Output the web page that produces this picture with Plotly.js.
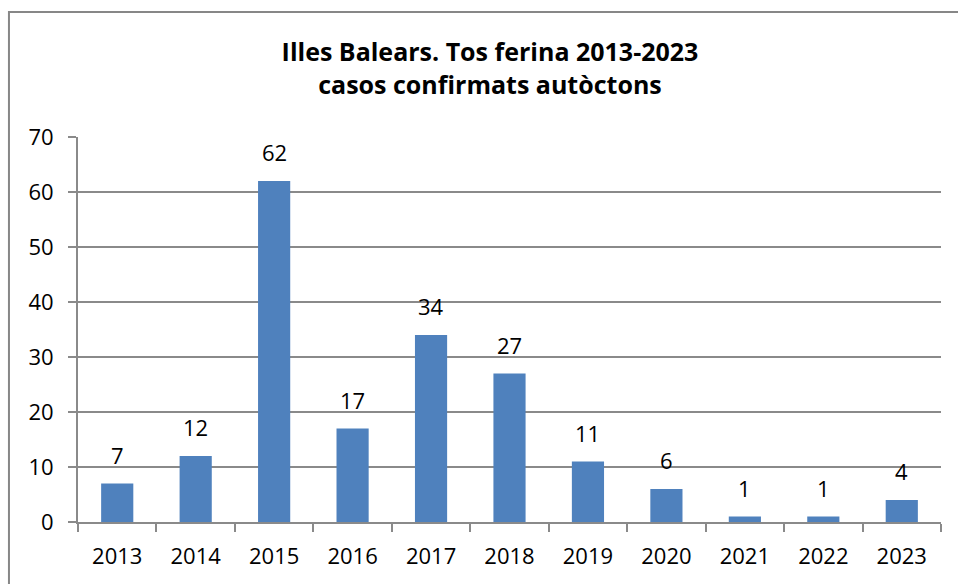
<!DOCTYPE html>
<html>
<head>
<meta charset="utf-8">
<script src="https://cdn.plot.ly/plotly-3.0.1.min.js"></script>
<style>html,body{margin:0;padding:0;background:#fff;}#chart{width:958px;height:584px;}</style>
</head>
<body>
<div id="chart"></div>
<script>
const years = ["2013","2014","2015","2016","2017","2018","2019","2020","2021","2022","2023"];
const cases = [7, 12, 62, 17, 34, 27, 11, 6, 1, 1, 4];
const yTicks = [0, 10, 20, 30, 40, 50, 60, 70];
const titleLines = ["Illes Balears. Tos ferina 2013-2023", "casos confirmats autòctons"];

const FONT = "Open Sans, Liberation Sans, sans-serif";
const GRID = "#8a8a8a";

const trace = {
  type: "bar",
  x: years,
  y: cases,
  marker: {color: "#4f81bd", line: {width: 0}},
  width: 0.41,
  hoverinfo: "x+y"
};

const annotations = years.map((yr, i) => ({
  x: i, y: cases[i], xref: "x", yref: "y",
  text: String(cases[i]), showarrow: false,
  yanchor: "bottom", yshift: 12,
  font: {family: FONT, size: 22, color: "#000"}
}));

const layout = {
  width: 958, height: 584,
  margin: {l: 78, r: 17, t: 137, b: 62},
  paper_bgcolor: "#fff", plot_bgcolor: "#fff",
  showlegend: false,
  title: {
    text: titleLines.join("<br>"),
    font: {family: FONT, size: 25, color: "#000", weight: "bold"},
    xref: "paper", x: 0.4774, xanchor: "center",
    yref: "container", y: 0.895, yanchor: "middle"
  },
  xaxis: {
    type: "category",
    categoryarray: years, categoryorder: "array",
    range: [-0.5, years.length - 0.5],
    tickson: "boundaries",
    ticks: "outside", ticklen: 8, tickwidth: 2, tickcolor: GRID,
    showline: true, linecolor: GRID, linewidth: 2,
    showgrid: false,
    tickfont: {family: FONT, size: 22, color: "#000"},
    tickangle: 0,
    ticklabelstandoff: 14,
    fixedrange: true
  },
  yaxis: {
    range: [0, 70],
    tickvals: yTicks,
    ticks: "outside", ticklen: 8, tickwidth: 2, tickcolor: GRID,
    showline: true, linecolor: GRID, linewidth: 2,
    showgrid: true, gridcolor: GRID, gridwidth: 2,
    zeroline: false,
    tickfont: {family: FONT, size: 22, color: "#000"},
    ticklabelstandoff: 10,
    fixedrange: true
  },
  annotations: annotations,
  shapes: [{
    type: "rect", xref: "paper", yref: "paper",
    x0: -0.0800, x1: 1.045, y0: -0.3, y1: 1.3247,
    line: {color: "#878787", width: 2}, fillcolor: "rgba(0,0,0,0)",
    layer: "below"
  }]
};

Plotly.newPlot("chart", [trace], layout, {displayModeBar: false, staticPlot: true});
</script>
</body>
</html>
